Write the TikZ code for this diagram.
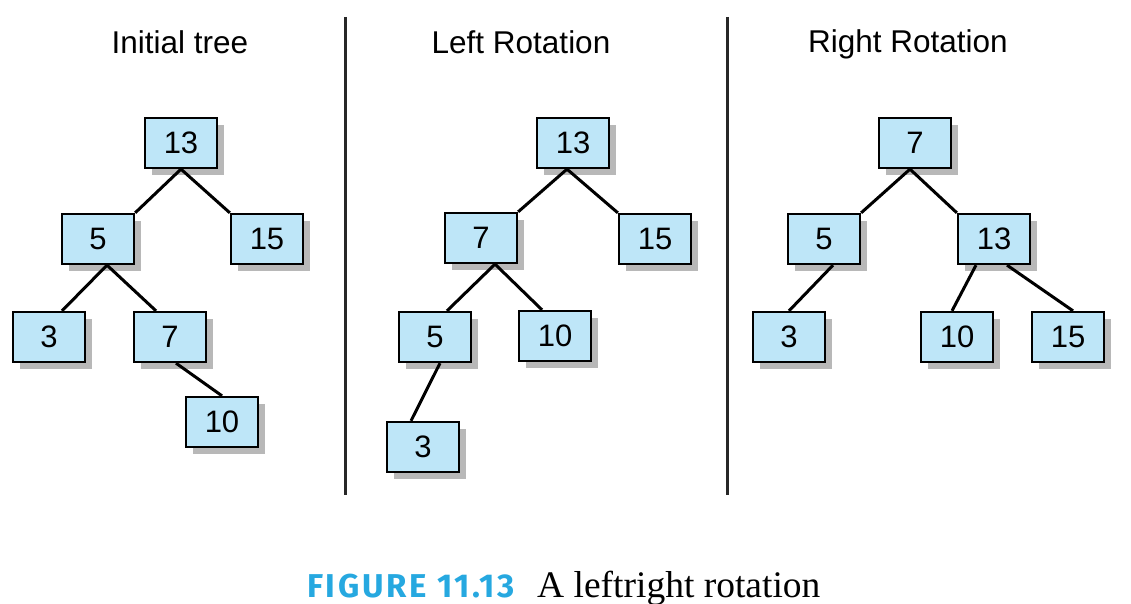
\documentclass[tikz,border=0pt]{standalone}
\usepackage{fontspec}
\usepackage{xcolor}
\usetikzlibrary{shadows,positioning}
\setmainfont{Liberation Sans}
\newfontfamily\figfont[LetterSpace=8]{Fira Sans}
\newfontfamily\capserif{Liberation Serif}
\definecolor{boxblue}{RGB}{190,230,248}
\definecolor{figblue}{RGB}{38,168,224}
\definecolor{sepgray}{RGB}{40,40,40}
\tikzset{
  treebox/.style={draw, line width=2.3pt, fill=boxblue, minimum width=72pt, minimum height=50pt,
    inner sep=0pt, font=\fontsize{31}{31}\selectfont,
    drop shadow={shadow xshift=7pt, shadow yshift=-7pt, fill=black!28, opacity=1}},
  edge/.style={line width=3pt},
  heading/.style={anchor=base, font=\fontsize{31.5}{31.5}\selectfont}
}
\begin{document}
\begin{tikzpicture}[x=1pt, y=-1pt]
    \useasboundingbox (0,0) rectangle (1131,604);
    % headings and separators
    \node[heading] (h1) at (180,54) {Initial tree};
    \node[heading] (h2) at (521,54) {Left Rotation};
    \node[heading] (h3) at (908,53) {Right Rotation};
    \draw[line width=3pt, sepgray] (345,17) -- (345,495);
    \draw[line width=3pt, sepgray] (727,17) -- (727,495);

    % initial tree
    \node[treebox] (a13) at (181,143) {13};
    \node[treebox] (a5) at (98,239) {5};
    \node[treebox] (a15) at (267,239) {15};
    \node[treebox] (a3) at (49,337) {3};
    \node[treebox] (a7) at (170,337) {7};
    \node[treebox] (a10) at (222,422) {10};
    \draw[edge] (a13.south) -- (a5.north east);
    \draw[edge] (a13.south) -- (a15.north west);
    \draw[edge] ([xshift=9pt]a5.south) -- ([xshift=13pt]a3.north);
    \draw[edge] ([xshift=9pt]a5.south) -- ([xshift=-14pt]a7.north);
    \draw[edge] ([xshift=6pt]a7.south) -- (a10.north);

    % left rotation
    \node[treebox] (b13) at (573,143) {13};
    \node[treebox] (b7) at (481,238) {7};
    \node[treebox] (b15) at (655,239) {15};
    \node[treebox] (b5) at (435,337) {5};
    \node[treebox] (b10) at (555,336) {10};
    \node[treebox] (b3) at (423,447) {3};
    \draw[edge] ([xshift=-6pt]b13.south) -- (b7.north east);
    \draw[edge] ([xshift=-6pt]b13.south) -- (b15.north west);
    \draw[edge] ([xshift=14pt]b7.south) -- ([xshift=12pt]b5.north);
    \draw[edge] ([xshift=14pt]b7.south) -- ([xshift=-13pt]b10.north);
    \draw[edge] ([xshift=5pt]b5.south) -- ([xshift=-12pt]b3.north);

    % right rotation
    \node[treebox] (c7) at (915,143) {7};
    \node[treebox] (c5) at (824,239) {5};
    \node[treebox] (c13) at (994,239) {13};
    \node[treebox] (c3) at (789,337) {3};
    \node[treebox] (c10) at (957,337) {10};
    \node[treebox] (c15) at (1068,337) {15};
    \draw[edge] ([xshift=-5pt]c7.south) -- (c5.north east);
    \draw[edge] ([xshift=-5pt]c7.south) -- (c13.north west);
    \draw[edge] ([xshift=9pt]c5.south) -- (c3.north);
    \draw[edge] ([xshift=-18pt]c13.south) -- ([xshift=-5pt]c10.north);
    \draw[edge] ([xshift=13pt]c13.south) -- ([xshift=5pt]c15.north);

    % caption
    \node[anchor=base west, inner sep=0pt, text=figblue, font=\figfont\bfseries\fontsize{33}{33}\selectfont] (figlabel) at (307,597) {FIGURE 11.13};
    \node[anchor=base west, inner sep=0pt, font=\capserif\fontsize{37.5}{37.5}\selectfont] (figtext) at ([xshift=22pt]figlabel.base east) {A leftright rotation};
\end{tikzpicture}
\end{document}
